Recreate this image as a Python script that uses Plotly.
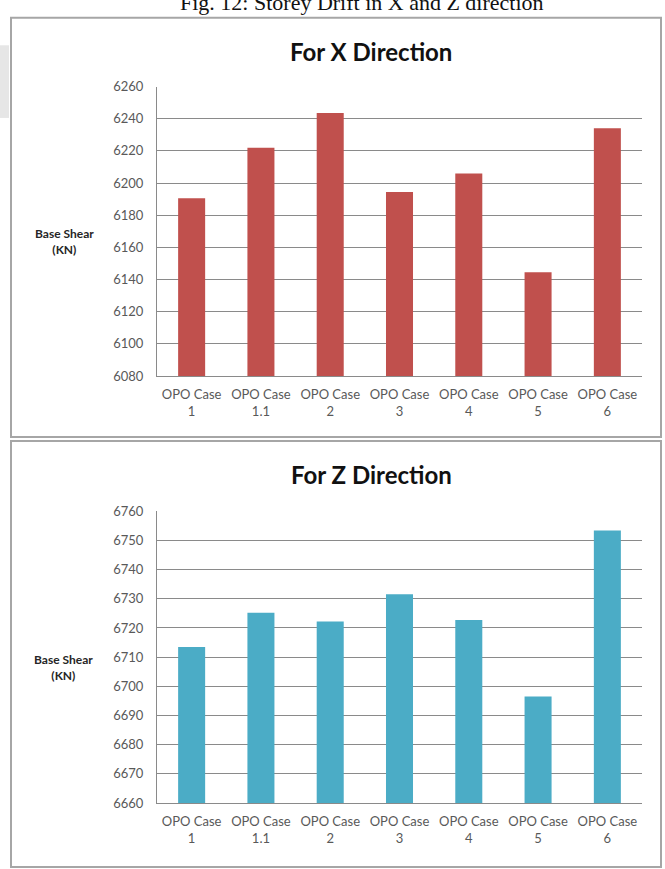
import plotly.graph_objects as go

# Base shear per OPO load case
categories = ["OPO Case<br>1", "OPO Case<br>1.1", "OPO Case<br>2", "OPO Case<br>3",
              "OPO Case<br>4", "OPO Case<br>5", "OPO Case<br>6"]
shear_x = [6190.5, 6222.0, 6243.5, 6194.5, 6206.0, 6144.5, 6234.0]
shear_z = [6713.5, 6725.2, 6722.2, 6731.6, 6722.7, 6696.5, 6753.4]
ticks_x = [6080, 6100, 6120, 6140, 6160, 6180, 6200, 6220, 6240, 6260]
ticks_z = [6660, 6670, 6680, 6690, 6700, 6710, 6720, 6730, 6740, 6750, 6760]

W, H = 665, 869
FONT = "Lato"
GRID = "#8a8a8a"
TICK_GREY = "#595959"


def px_x(v):
    return v / W


def px_y(v):
    return 1 - v / H


fig = go.Figure()
fig.add_trace(go.Bar(x=categories, y=shear_x, marker=dict(color="#C0504D", line=dict(width=0)),
                     xaxis="x", yaxis="y", showlegend=False))
fig.add_trace(go.Bar(x=categories, y=shear_z, marker=dict(color="#4BACC6", line=dict(width=0)),
                     xaxis="x2", yaxis="y2", showlegend=False))

xdom = [px_x(157), px_x(642)]
common_x = dict(showgrid=False, showline=True, linecolor=GRID, linewidth=1,
                ticks="outside", ticklen=6, tickcolor="rgba(0,0,0,0)",
                tickfont=dict(family=FONT, size=13, color=TICK_GREY),
                fixedrange=True)
common_y = dict(showgrid=True, gridcolor=GRID, gridwidth=1, showline=True,
                linecolor=GRID, linewidth=1, zeroline=False,
                ticks="outside", ticklen=10, tickcolor="rgba(0,0,0,0)",
                tickfont=dict(family=FONT, size=13, color=TICK_GREY),
                fixedrange=True)

fig.update_layout(
    width=W, height=H,
    margin=dict(l=0, r=0, t=0, b=0),
    paper_bgcolor="white", plot_bgcolor="white",
    bargap=0.61,
    xaxis=dict(domain=xdom, anchor="y", **common_x),
    yaxis=dict(domain=[px_y(375), px_y(80)], anchor="x", range=[6080, 6260],
               tickvals=ticks_x, **common_y),
    xaxis2=dict(domain=xdom, anchor="y2", **common_x),
    yaxis2=dict(domain=[px_y(810), px_y(512.7)], anchor="x2", range=[6660, 6760],
                tickvals=ticks_z, **common_y),
)

# panel frames
frame = dict(type="rect", xref="paper", yref="paper", layer="below",
             line=dict(color="#a6a6a6", width=2), fillcolor="rgba(0,0,0,0)")
fig.add_shape(x0=px_x(11), x1=px_x(661), y0=px_y(437), y1=px_y(10), **frame)
fig.add_shape(x0=px_x(11), x1=px_x(661), y0=px_y(875), y1=px_y(441), **frame)

# faint page shading on the left edge
fig.add_shape(type="rect", xref="paper", yref="paper", layer="below",
              x0=0, x1=px_x(9), y0=px_y(112), y1=px_y(38),
              line=dict(width=0), fillcolor="#e6e6e6")

annotations = [
    dict(text="Fig. 12: Storey Drift in X and Z direction", x=px_x(362), y=px_y(-6),
         font=dict(family="Liberation Serif", size=22, color="#111111")),
    dict(text="<b>For X Direction</b>", x=px_x(371), y=px_y(44),
         font=dict(family=FONT, size=24, color="#111111")),
    dict(text="<b>For Z Direction</b>", x=px_x(371), y=px_y(475),
         font=dict(family=FONT, size=24, color="#111111")),
    dict(text="<b>Base Shear<br>(KN)</b>", x=px_x(64), y=px_y(238),
         font=dict(family=FONT, size=12, color="#262626")),
    dict(text="<b>Base Shear<br>(KN)</b>", x=px_x(63), y=px_y(672),
         font=dict(family=FONT, size=12, color="#262626")),
]
for a in annotations:
    fig.add_annotation(xref="paper", yref="paper", showarrow=False,
                       xanchor="center", yanchor="middle", **a)

fig.write_html("out.html")
